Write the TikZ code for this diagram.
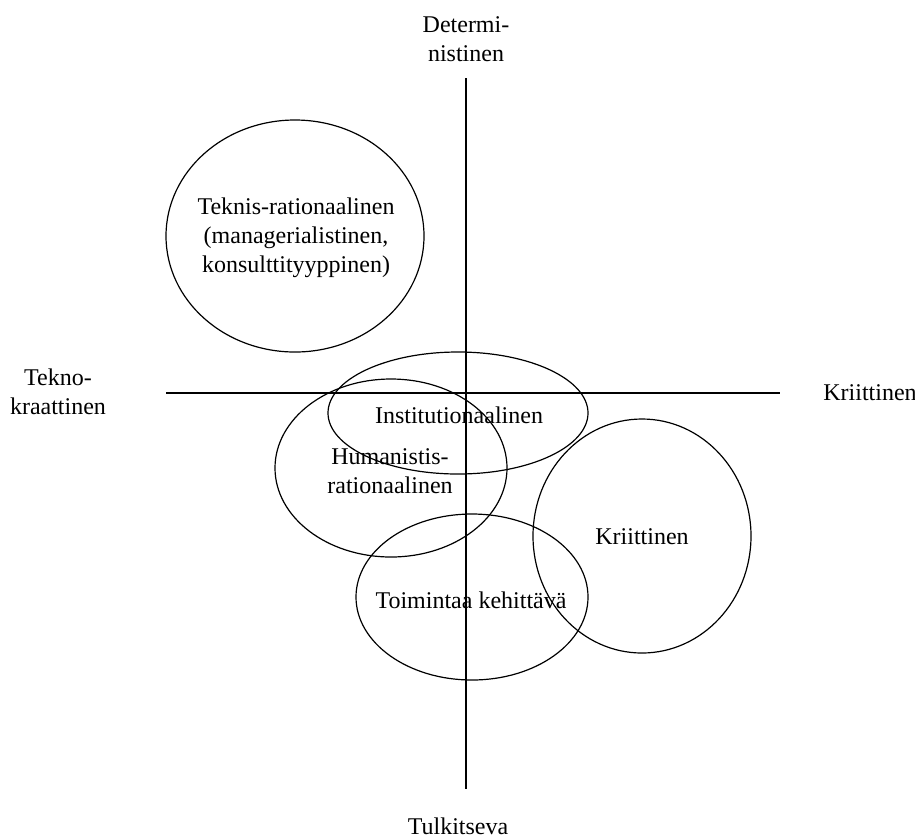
\documentclass[tikz,border=0pt]{standalone}
\usepackage{fontspec}
\setmainfont{Liberation Serif}
\begin{document}
\begin{tikzpicture}[x=.5pt,y=-.5pt,font=\fontsize{12}{14.4}\selectfont,
  txt/.style={align=center,inner sep=0pt},
  ring/.style={draw=black,line width=.6pt}]
\useasboundingbox (0,0) rectangle (915,837);
\coordinate (ytop) at (466,78);
\coordinate (ybot) at (466,789);
\coordinate (xleft) at (166,393);
\coordinate (xright) at (780,393);
\draw[line width=.6pt] (ytop) -- (ybot);
\draw[line width=.7pt] (xleft) -- (xright);
\node[txt] (determ) at (466,39) {Determi-\\nistinen};
\node[txt] (tulk) at (458,826) {Tulkitseva};
\node[txt] (tekno) at (58,392) {Tekno-\\kraattinen};
\node[txt,anchor=west] (kriitax) at (823,393) {Kriittinen};
\path[ring] (295,236) ellipse [x radius=129,y radius=116];
\node[txt] (teknis) at (296,238) {Teknis-rationaalinen\\(managerialistinen,\\konsulttityyppinen)};
\path[ring] (458,413) ellipse [x radius=130,y radius=61];
\node[txt] (instit) at (459,415) {Institutionaalinen};
\path[ring] (391,468) ellipse [x radius=116,y radius=89];
\node[txt] (human) at (390,471) {Humanistis-\\rationaalinen};
\path[ring] (642,536) ellipse [x radius=109,y radius=117];
\node[txt] (kriit) at (642,537) {Kriittinen};
\path[ring] (472,597) ellipse [x radius=116,y radius=83];
\node[txt] (toim) at (471,600) {Toimintaa kehittävä};
\end{tikzpicture}
\end{document}
